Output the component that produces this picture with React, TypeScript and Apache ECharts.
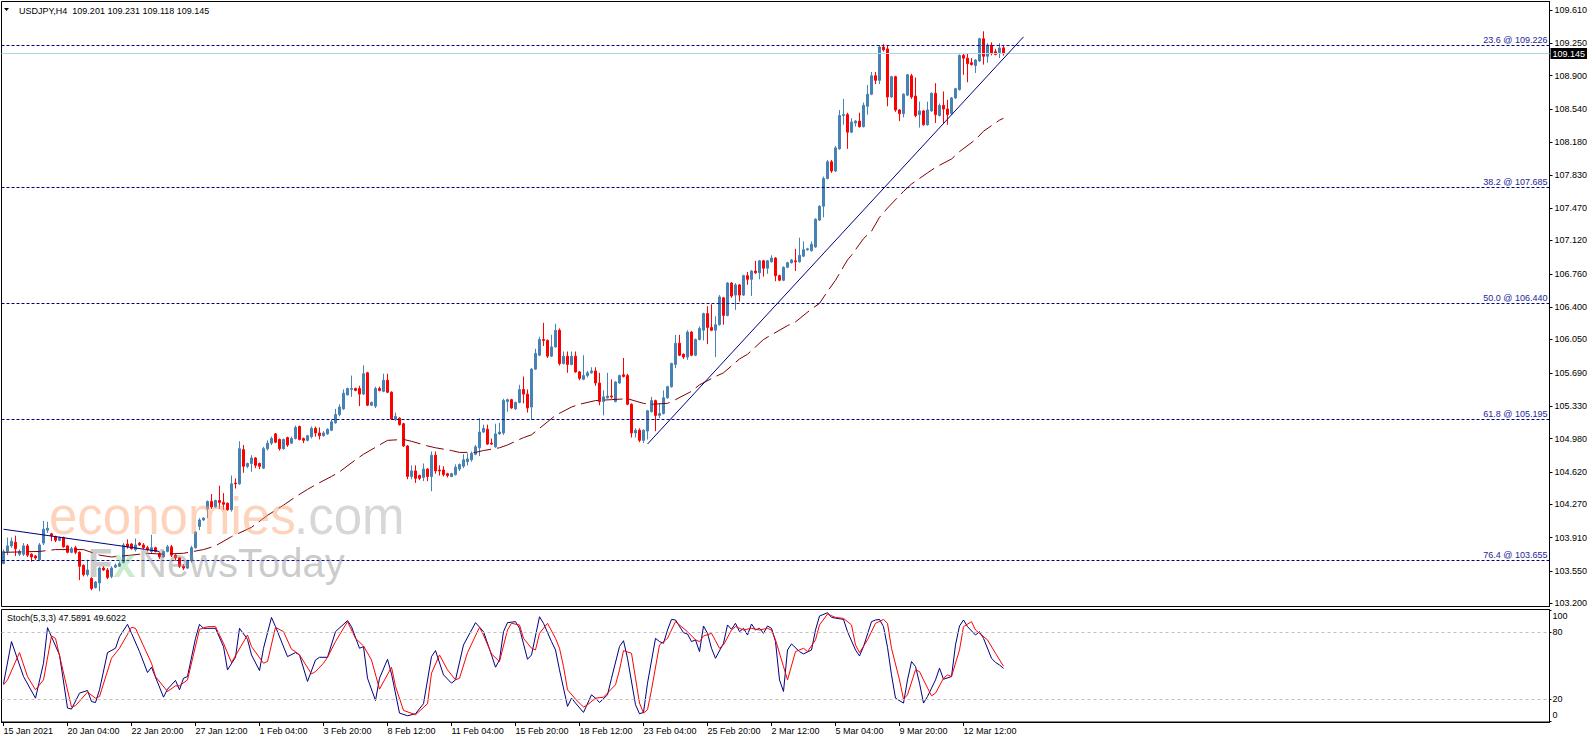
import React, { useEffect, useRef } from 'react';
import * as echarts from 'echarts';

// [open, high, low, close] per H4 bar, from 15 Jan 2021 12:00
const ohlc: number[][] = [
  [103.63,103.78,103.62,103.76],[103.76,103.91,103.72,103.82],[103.82,103.91,103.80,103.87],[103.86,103.93,103.71,103.79],
  [103.73,103.78,103.71,103.76],[103.73,103.85,103.71,103.82],[103.82,103.84,103.70,103.72],[103.73,103.74,103.65,103.70],
  [103.71,103.72,103.67,103.69],[103.67,103.85,103.66,103.83],[103.85,104.09,103.83,104.00],[103.99,104.08,103.96,104.01],
  [103.95,103.96,103.87,103.93],[103.92,103.93,103.86,103.88],[103.88,103.92,103.87,103.91],[103.91,103.92,103.80,103.81],
  [103.82,103.83,103.74,103.75],[103.75,103.81,103.74,103.79],[103.80,103.82,103.73,103.75],[103.75,103.76,103.45,103.60],
  [103.61,103.62,103.49,103.51],[103.51,103.67,103.49,103.56],[103.47,103.48,103.34,103.36],[103.37,103.44,103.36,103.43],
  [103.42,103.59,103.33,103.58],[103.58,103.60,103.55,103.56],[103.56,103.58,103.46,103.48],[103.49,103.60,103.47,103.58],
  [103.59,103.63,103.58,103.61],[103.60,103.65,103.59,103.63],[103.64,103.85,103.63,103.83],[103.84,103.89,103.79,103.81],
  [103.84,103.85,103.78,103.79],[103.78,103.90,103.76,103.83],[103.85,103.86,103.82,103.83],[103.83,103.85,103.78,103.80],
  [103.80,103.82,103.76,103.78],[103.76,103.94,103.74,103.80],[103.80,103.81,103.75,103.76],[103.74,103.75,103.68,103.70],
  [103.70,103.77,103.69,103.76],[103.76,103.83,103.75,103.81],[103.81,103.83,103.70,103.72],[103.72,103.73,103.66,103.69],
  [103.69,103.70,103.58,103.60],[103.60,103.62,103.56,103.58],[103.58,103.67,103.57,103.66],[103.66,103.82,103.64,103.80],
  [103.80,103.98,103.79,103.97],[104.03,104.12,103.99,104.10],[104.10,104.13,104.09,104.12],[104.22,104.31,104.12,104.30],
  [104.30,104.38,104.22,104.24],[104.24,104.32,104.23,104.31],[104.31,104.47,104.22,104.29],[104.29,104.39,104.21,104.27],
  [104.28,104.29,104.20,104.21],[104.21,104.58,104.19,104.49],[104.50,104.55,104.44,104.49],[104.49,104.95,104.48,104.87],
  [104.86,104.91,104.61,104.68],[104.68,104.72,104.66,104.71],[104.71,104.80,104.62,104.77],[104.77,104.78,104.66,104.69],
  [104.71,104.72,104.65,104.68],[104.66,104.89,104.65,104.87],[104.87,104.96,104.85,104.93],[104.93,105.00,104.91,104.98],
  [105.03,105.04,104.93,104.94],[104.97,104.98,104.85,104.87],[104.87,104.98,104.86,104.97],[104.99,105.00,104.89,104.91],
  [104.93,105.00,104.92,104.98],[104.98,105.12,104.97,105.10],[105.11,105.12,104.96,104.97],[104.98,104.99,104.93,104.96],
  [104.96,105.02,104.95,105.01],[105.00,105.11,104.98,105.09],[105.09,105.11,105.00,105.04],[105.04,105.10,104.97,105.01],
  [105.01,105.06,105.00,105.04],[105.03,105.09,105.02,105.08],[105.07,105.18,105.06,105.16],[105.15,105.30,105.14,105.24],
  [105.24,105.35,105.22,105.32],[105.30,105.51,105.29,105.47],[105.45,105.53,105.45,105.52],[105.51,105.66,105.43,105.52],
  [105.52,105.53,105.49,105.50],[105.52,105.55,105.33,105.46],[105.46,105.77,105.45,105.68],[105.69,105.70,105.33,105.34],
  [105.34,105.38,105.33,105.37],[105.33,105.54,105.31,105.52],[105.52,105.54,105.49,105.50],[105.49,105.68,105.48,105.61],
  [105.61,105.68,105.47,105.48],[105.48,105.49,105.18,105.19],[105.19,105.26,105.17,105.22],[105.20,105.21,105.12,105.13],
  [105.14,105.15,104.89,104.90],[104.90,104.91,104.54,104.57],[104.57,104.69,104.54,104.63],[104.63,104.69,104.50,104.55],
  [104.58,104.59,104.53,104.55],[104.56,104.71,104.52,104.65],[104.65,104.66,104.52,104.57],[104.57,104.84,104.41,104.80],
  [104.80,104.84,104.60,104.63],[104.64,104.69,104.58,104.63],[104.64,104.68,104.57,104.59],[104.60,104.61,104.56,104.58],
  [104.57,104.61,104.56,104.60],[104.59,104.70,104.58,104.67],[104.65,104.71,104.63,104.70],[104.68,104.81,104.66,104.75],
  [104.73,104.82,104.69,104.76],[104.75,104.84,104.73,104.82],[104.81,104.91,104.80,104.89],[104.88,105.20,104.79,105.05],
  [105.05,105.13,105.04,105.09],[105.08,105.13,104.91,104.92],[104.93,104.98,104.91,104.92],[104.89,105.14,104.88,105.03],
  [105.03,105.15,105.02,105.05],[105.04,105.41,105.02,105.39],[105.38,105.41,105.27,105.40],[105.40,105.41,105.30,105.31],
  [105.30,105.38,105.29,105.37],[105.37,105.56,105.36,105.51],[105.51,105.65,105.36,105.46],[105.46,105.51,105.26,105.31],
  [105.32,105.74,105.18,105.73],[105.73,105.95,105.72,105.90],[105.88,106.08,105.87,106.05],[106.05,106.23,105.98,106.04],
  [106.04,106.05,105.85,105.87],[105.87,106.10,105.86,105.97],[105.97,106.22,105.96,106.15],[106.15,106.17,105.77,105.79],
  [105.79,105.92,105.78,105.87],[105.87,105.92,105.69,105.78],[105.78,105.92,105.77,105.87],[105.87,105.92,105.69,105.70],
  [105.70,105.71,105.61,105.63],[105.62,105.88,105.61,105.66],[105.66,105.71,105.64,105.69],[105.69,105.75,105.68,105.71],
  [105.71,105.75,105.55,105.58],[105.58,105.69,105.34,105.38],[105.38,105.50,105.23,105.43],[105.42,105.69,105.41,105.44],
  [105.44,105.62,105.41,105.43],[105.38,105.60,105.37,105.59],[105.58,105.67,105.57,105.66],[105.67,105.85,105.64,105.65],
  [105.66,105.68,105.34,105.35],[105.35,105.36,104.99,105.04],[105.04,105.09,104.99,105.07],[105.07,105.09,104.94,104.96],
  [104.96,105.08,104.93,105.07],[105.06,105.29,104.97,105.28],[105.27,105.43,105.26,105.39],[105.39,105.40,105.06,105.23],
  [105.23,105.36,105.20,105.25],[105.25,105.50,105.24,105.42],[105.42,105.55,105.41,105.54],[105.54,105.80,105.53,105.79],
  [105.78,106.10,105.74,106.01],[106.01,106.10,105.87,105.88],[105.89,105.90,105.84,105.86],[105.86,106.15,105.83,106.13],
  [106.13,106.14,105.87,105.88],[105.88,106.06,105.87,106.05],[106.05,106.19,106.04,106.17],[106.15,106.34,106.04,106.33],
  [106.33,106.41,106.00,106.18],[106.18,106.43,106.14,106.15],[106.15,106.30,105.86,106.21],[106.21,106.53,106.20,106.51],
  [106.50,106.51,106.21,106.31],[106.31,106.67,106.30,106.66],[106.66,106.67,106.50,106.52],[106.53,106.66,106.37,106.64],
  [106.64,106.65,106.46,106.53],[106.53,106.75,106.52,106.74],[106.74,106.78,106.64,106.70],[106.70,106.80,106.52,106.79],
  [106.79,106.90,106.76,106.77],[106.77,106.91,106.70,106.90],[106.90,106.91,106.73,106.82],[106.82,106.91,106.76,106.90],
  [106.89,106.96,106.88,106.93],[106.93,106.94,106.68,106.74],[106.74,106.75,106.68,106.69],[106.69,106.84,106.68,106.83],
  [106.83,106.89,106.82,106.88],[106.88,106.92,106.87,106.91],[106.90,107.03,106.79,106.89],[106.89,107.15,106.88,106.96],
  [106.95,107.11,106.94,107.02],[107.02,107.04,107.01,107.03],[107.01,107.11,107.00,107.08],[107.05,107.36,107.04,107.35],
  [107.34,107.50,107.33,107.49],[107.49,107.81,107.37,107.79],[107.79,107.99,107.78,107.97],[107.97,107.99,107.85,107.87],
  [107.87,108.14,107.86,108.12],[108.11,108.53,108.10,108.47],[108.47,108.65,108.37,108.48],[108.48,108.50,108.11,108.29],
  [108.29,108.44,108.28,108.40],[108.39,108.42,108.35,108.41],[108.41,108.50,108.34,108.35],[108.35,108.61,108.34,108.58],
  [108.57,108.80,108.48,108.70],[108.70,108.94,108.69,108.90],[108.90,108.94,108.81,108.85],[108.85,109.23,108.81,109.21],
  [109.21,109.24,109.16,109.18],[109.19,109.23,108.57,108.67],[108.67,108.90,108.66,108.89],[108.89,108.90,108.51,108.53],
  [108.53,108.54,108.41,108.49],[108.49,108.71,108.45,108.70],[108.69,108.92,108.68,108.91],[108.90,108.92,108.65,108.67],
  [108.68,108.88,108.45,108.47],[108.48,108.62,108.34,108.52],[108.52,108.53,108.36,108.37],[108.37,108.62,108.36,108.53],
  [108.52,108.72,108.51,108.71],[108.71,108.82,108.39,108.48],[108.47,108.60,108.46,108.58],[108.58,108.73,108.39,108.54],
  [108.54,108.64,108.37,108.48],[108.49,108.67,108.48,108.66],[108.66,108.77,108.65,108.76],[108.75,109.13,108.74,109.12],
  [109.12,109.14,108.91,109.09],[109.09,109.14,108.83,109.03],[109.04,109.09,109.01,109.02],[109.01,109.08,108.93,109.07],
  [109.06,109.31,109.05,109.30],[109.30,109.38,109.02,109.11],[109.11,109.25,109.04,109.23],[109.23,109.26,109.12,109.14],
  [109.16,109.19,109.12,109.13],[109.15,109.25,109.09,109.20],[109.201,109.231,109.118,109.145],
];

// moving average read at bar indexes [bar, price]
const maPoints: number[][] = [
  [0,103.75],[9,103.76],[13,103.78],[20,103.78],[24,103.72],[27,103.70],[32,103.72],[36,103.74],[40,103.73],[45,103.74],
  [50,103.78],[53,103.82],[57,103.92],[62,104.02],[66,104.15],[70,104.26],[73,104.35],[76,104.43],[78,104.48],[82,104.57],
  [84,104.62],[88,104.75],[90,104.81],[94,104.91],[96,104.96],[100,104.97],[102,104.95],[106,104.90],[108,104.88],[112,104.85],
  [114,104.83],[118,104.83],[120,104.85],[124,104.88],[126,104.91],[130,104.99],[132,105.02],[136,105.16],[138,105.23],[142,105.32],
  [144,105.35],[148,105.39],[152,105.40],[156,105.41],[160,105.36],[162,105.35],[166,105.36],[168,105.40],[172,105.49],[174,105.56],
  [178,105.65],[180,105.69],[184,105.84],[186,105.89],[190,106.05],[192,106.10],[196,106.20],[198,106.24],[202,106.38],[204,106.44],
  [206,106.57],[208,106.69],[211,106.91],[212,106.96],[215,107.14],[217,107.22],[219,107.37],[221,107.47],[225,107.65],[227,107.73],
  [231,107.85],[233,107.91],[237,108.00],[239,108.08],[243,108.21],[245,108.30],[249,108.42],[250,108.44],
];

// Stochastic %K (main) and %D (signal), [bar, value]
const stochK: number[][] = [
  [0,33.8],[2,71.7],[5,40.3],[8,20.9],[10,52.3],[11,84.2],[14,59.7],[16,12.0],[17,11.1],[19,25.4],[21,27.8],[22,17.9],[23,17.0],
  [24,28.4],[26,61.8],[28,65.7],[29,76.1],[31,87.2],[32,79.1],[34,62.7],[36,43.9],[37,48.7],[40,21.8],[41,29.0],[43,36.8],[44,28.4],
  [45,38.8],[46,40.3],[48,74.6],[49,87.2],[50,83.6],[53,83.6],[55,67.2],[56,46.3],[58,57.6],[59,83.6],[61,73.7],[62,59.7],[64,45.7],
  [65,65.7],[67,93.4],[68,85.1],[71,58.2],[73,61.8],[74,59.7],[76,35.9],[78,55.2],[79,57.6],[81,57.6],[83,80.6],[86,90.5],[87,85.1],
  [89,65.7],[90,67.2],[91,38.8],[93,18.8],[94,38.8],[96,55.8],[97,42.7],[99,7.5],[101,5.1],[103,6.9],[105,15.9],[107,58.2],[108,63.6],
  [110,41.8],[112,34.4],[113,37.3],[115,68.7],[118,88.7],[120,80.6],[122,59.7],[123,48.7],[124,55.2],[125,80.6],[126,88.7],[128,89.6],
  [129,83.6],[131,55.8],[132,59.7],[134,94.0],[135,88.1],[137,71.7],[138,64.2],[139,46.3],[141,13.5],[142,20.9],[143,16.5],[145,8.1],
  [147,23.9],[148,20.9],[149,17.0],[151,23.9],[152,38.8],[154,67.2],[155,72.5],[156,56.7],[158,15.0],[159,6.9],[160,8.1],[161,34.4],
  [163,74.6],[164,71.7],[165,70.2],[166,82.1],[167,91.6],[168,91.1],[170,79.7],[171,78.5],[172,71.7],[173,73.2],[174,62.7],[175,85.7],
  [176,79.1],[177,65.7],[178,56.7],[180,70.2],[181,86.6],[182,82.7],[183,88.1],[184,80.6],[185,83.6],[186,77.6],[187,87.5],[188,82.1],
  [189,83.6],[190,79.1],[191,85.7],[192,83.6],[193,71.7],[194,37.3],[195,26.9],[196,64.2],[197,69.6],[199,62.7],[200,60.6],[202,64.2],
  [203,82.1],[204,94.6],[206,97.6],[207,93.4],[210,91.6],[211,80.6],[213,64.2],[214,58.8],[215,67.2],[217,89.6],[218,91.1],[219,91.6],
  [220,85.1],[221,66.6],[222,41.8],[223,20.9],[225,16.5],[226,37.3],[227,53.8],[228,49.3],[229,34.4],[230,16.5],[231,22.4],[233,37.3],
  [234,47.8],[235,37.9],[237,40.3],[238,68.7],[239,85.7],[240,91.1],[241,85.1],[243,77.6],[244,80.6],[245,74.6],[247,56.7],[248,53.0],
  [249,50.7],[250,47.5891],
];
const stochD: number[][] = [
  [0,32.9],[1,37.3],[4,61.8],[6,40.3],[8,28.4],[10,37.3],[12,76.7],[13,74.6],[17,12.9],[18,14.1],[21,26.3],[23,20.9],[24,22.4],
  [27,56.7],[29,65.7],[32,84.5],[33,83.6],[35,67.8],[37,52.3],[38,40.3],[41,26.9],[43,32.0],[44,32.0],[46,37.3],[49,82.7],[51,85.1],
  [53,85.1],[55,70.2],[57,52.9],[61,77.6],[62,67.2],[65,52.3],[66,53.8],[68,84.5],[70,80.6],[72,64.8],[73,62.7],[74,59.7],[77,42.7],
  [78,44.8],[80,52.3],[81,57.6],[83,71.7],[86,89.6],[88,74.6],[90,67.8],[92,55.2],[94,29.0],[97,48.7],[98,31.4],[100,9.9],[103,6.0],
  [106,15.9],[107,43.3],[109,59.7],[111,46.3],[113,37.3],[114,38.8],[116,61.8],[119,84.5],[120,77.6],[122,60.6],[124,53.8],[126,82.1],
  [127,88.1],[129,86.6],[130,74.6],[132,65.7],[133,64.2],[134,79.1],[136,88.1],[138,74.6],[139,65.7],[140,49.3],[141,28.4],[143,20.0],
  [145,12.9],[146,15.0],[148,20.9],[150,21.8],[153,32.9],[154,46.3],[155,63.6],[157,61.2],[158,38.8],[159,16.5],[160,7.5],[161,10.5],
  [162,28.4],[164,68.7],[166,74.6],[167,82.1],[168,89.6],[171,80.6],[173,73.2],[174,71.7],[175,76.7],[177,79.1],[178,72.5],[179,65.7],
  [180,68.7],[182,82.1],[183,85.1],[185,82.1],[187,83.6],[189,82.1],[191,83.6],[192,82.1],[193,73.2],[195,49.3],[196,37.3],[198,62.7],
  [200,65.7],[201,62.7],[203,73.2],[204,86.6],[206,96.4],[208,93.4],[210,92.5],[212,86.6],[213,68.7],[214,61.8],[216,73.2],[218,88.1],
  [220,91.6],[221,88.1],[222,65.7],[224,37.3],[225,20.0],[226,23.9],[228,46.3],[229,44.8],[230,37.3],[232,23.0],[233,25.4],[235,38.8],
  [236,41.8],[237,40.3],[239,64.2],[240,85.1],[242,89.6],[243,82.1],[246,73.2],[248,61.2],[250,49.6022],
];

const fibLevels = [
  { level: '23.6', price: 109.226 },
  { level: '38.2', price: 107.685 },
  { level: '50.0', price: 106.44 },
  { level: '61.8', price: 105.195 },
  { level: '76.4', price: 103.655 },
];
const trendLines: number[][][] = [
  [[161, 104.92], [255, 109.32]],
  [[0, 104.0], [39, 103.76]],
];
const bidPrice = 109.145;
const priceTicks = [103.2, 103.55, 103.91, 104.27, 104.62, 104.98, 105.33, 105.69, 106.05, 106.4, 106.76, 107.12, 107.47, 107.83, 108.18, 108.54, 108.9, 109.25, 109.61];
const stochTicks = [0, 20, 80, 100];
const stochLevels = [20, 80];
const dateTicks = ['15 Jan 2021', '20 Jan 04:00', '22 Jan 20:00', '27 Jan 12:00', '1 Feb 04:00', '3 Feb 20:00', '8 Feb 12:00', '11 Feb 04:00', '15 Feb 20:00', '18 Feb 12:00', '23 Feb 04:00', '25 Feb 20:00', '2 Mar 12:00', '5 Mar 04:00', '9 Mar 20:00', '12 Mar 12:00'];
const titleText = 'USDJPY,H4  109.201 109.231 109.118 109.145';
const stochTitle = 'Stoch(5,3,3) 47.5891 49.6022';

const SLOTS = 387;
const TICK_EVERY = 16;
const PRICE_MIN = 103.165;
const PRICE_MAX = 109.702;

export default function App() {
  const ref = useRef<HTMLDivElement>(null);
  useEffect(() => {
    document.body.style.margin = '0';
    const chart = echarts.init(ref.current as HTMLDivElement, null, { renderer: 'svg' });
    const font = 'Liberation Sans';
    const cats = Array.from({ length: SLOTS }, (_, i) => String(i));
    const tickShown = (i: number) => i % TICK_EVERY === 0 && i / TICK_EVERY < dateTicks.length;
    const txt = { fontSize: 9, fontFamily: font, color: '#000' };

    chart.setOption({
      animation: false,
      textStyle: { fontFamily: font },
      grid: [
        { left: 1.5, top: 1.5, width: SLOTS * 4, height: 605, show: true, borderColor: '#000', borderWidth: 1, containLabel: false, outerBoundsMode: 'none' },
        { left: 1.5, top: 609.5, width: SLOTS * 4, height: 112.5, show: true, borderColor: '#000', borderWidth: 1, containLabel: false, outerBoundsMode: 'none' },
      ],
      xAxis: [
        { type: 'category', gridIndex: 0, data: cats, boundaryGap: true, axisLine: { show: false }, axisTick: { show: false }, axisLabel: { show: false }, splitLine: { show: false } },
        {
          type: 'category', gridIndex: 1, data: cats, boundaryGap: true,
          axisLine: { show: true, onZero: false, lineStyle: { color: '#000' } },
          axisTick: { show: true, alignWithLabel: true, length: 4, interval: (i: number) => tickShown(i), lineStyle: { color: '#000' } },
          axisLabel: { ...txt, interval: (i: number) => tickShown(i), formatter: (_v: string, i: number) => dateTicks[i / TICK_EVERY] ?? '', align: 'left', margin: 4 },
          splitLine: { show: false },
        },
      ],
      yAxis: [
        {
          type: 'value', gridIndex: 0, position: 'right', min: PRICE_MIN, max: PRICE_MAX, scale: true,
          axisLine: { show: true, onZero: false, lineStyle: { color: '#000' } },
          axisTick: { show: true, length: 3, customValues: priceTicks, lineStyle: { color: '#000' } },
          axisLabel: { ...txt, customValues: priceTicks, formatter: (v: number) => v.toFixed(3), margin: 5 },
          splitLine: { show: false },
        },
        {
          type: 'value', gridIndex: 1, position: 'right', min: -0.5, max: 100.5,
          axisLine: { show: true, onZero: false, lineStyle: { color: '#000' } },
          axisTick: { show: true, length: 2, customValues: stochTicks, lineStyle: { color: '#000' } },
          axisLabel: {
            ...txt, customValues: stochTicks, margin: 3,
            formatter: (v: number) => (v === 100 ? '{t|100}' : v === 0 ? '{b|0}' : '{m|' + v + '}'),
            rich: {
              t: { ...txt, padding: [11, 0, 0, 0] },
              b: { ...txt, padding: [0, 0, 13, 0] },
              m: { ...txt },
            },
          },
          splitLine: { show: false },
        },
      ],
      series: [
        {
          type: 'candlestick', xAxisIndex: 0, yAxisIndex: 0, barWidth: 2,
          data: ohlc.map(([o, h, l, c]) => [o, c, l, h]),
          itemStyle: { color: '#4682B4', color0: '#FF0000', borderColor: '#4682B4', borderColor0: '#FF0000', borderWidth: 1 },
          markLine: {
            silent: true, symbol: ['none', 'none'], animation: false,
            data: [
              ...fibLevels.map((f) => ({
                yAxis: f.price,
                lineStyle: { color: '#000080', type: [3, 2], width: 1 },
                label: { show: true, position: 'insideEndTop', formatter: `${f.level} @ ${f.price.toFixed(3)}`, color: '#24249a', fontSize: 9, fontFamily: font, distance: [2, 1] },
              })),
              {
                yAxis: bidPrice,
                lineStyle: { color: '#ADD8E6', type: 'solid', width: 1 },
                label: { show: true, position: 'end', formatter: bidPrice.toFixed(3), color: '#fff', backgroundColor: '#000', padding: [1, 2, 1, 2], fontSize: 9, fontFamily: font, distance: 1 },
              },
              ...trendLines.map((t) => [
                { coord: t[0], lineStyle: { color: '#000080', type: 'solid', width: 1 }, label: { show: false } },
                { coord: t[1] },
              ]),
            ],
          },
        },
        {
          type: 'line', xAxisIndex: 0, yAxisIndex: 0, data: maPoints, symbol: 'none', silent: true,
          lineStyle: { color: '#800000', width: 1, type: [18, 6] },
        },
        {
          type: 'line', xAxisIndex: 1, yAxisIndex: 1, data: stochK, symbol: 'none', silent: true,
          lineStyle: { color: '#000080', width: 1 },
          markLine: {
            silent: true, symbol: ['none', 'none'], animation: false,
            label: { show: false },
            lineStyle: { color: '#C0C0C0', type: [3, 3], width: 1 },
            data: stochLevels.map((v) => ({ yAxis: v })),
          },
        },
        {
          type: 'line', xAxisIndex: 1, yAxisIndex: 1, data: stochD, symbol: 'none', silent: true,
          lineStyle: { color: '#FF0000', width: 1 },
        },
      ],
      graphic: [
        { type: 'polygon', shape: { points: [[4, 8], [9, 8], [6.5, 11]] }, style: { fill: '#000' }, z: 50 },
        { type: 'text', x: 19, y: 10.5, style: { text: titleText, fill: '#000', font: `9px "${font}"`, align: 'left', verticalAlign: 'middle' }, z: 50 },
        { type: 'text', x: 7, y: 617.7, style: { text: stochTitle, fill: '#000', font: `9px "${font}"`, align: 'left', verticalAlign: 'middle' }, z: 50 },
        { type: 'text', x: 49, y: 516, style: { text: 'economies', fill: 'rgba(250,160,105,0.45)', font: `51px "${font}"`, align: 'left', verticalAlign: 'middle' }, z: 40 },
        { type: 'text', x: 294, y: 516, style: { text: '.com', fill: 'rgba(150,150,150,0.38)', font: `51px "${font}"`, align: 'left', verticalAlign: 'middle' }, z: 40 },
        { type: 'text', x: 88, y: 563, style: { text: 'F', fill: 'rgba(140,140,140,0.45)', font: `bold 40px "${font}"`, align: 'left', verticalAlign: 'middle' }, z: 40 },
        { type: 'text', x: 113, y: 563, style: { text: 'x', fill: 'rgba(120,200,120,0.4)', font: `bold 40px "${font}"`, align: 'left', verticalAlign: 'middle' }, z: 40 },
        { type: 'text', x: 138, y: 563, style: { text: 'NewsToday', fill: 'rgba(140,140,140,0.45)', font: `40px "${font}"`, align: 'left', verticalAlign: 'middle' }, z: 40 },
      ],
    });
    return () => chart.dispose();
  }, []);
  return <div ref={ref} style={{ width: 1596, height: 743 }} />;
}
